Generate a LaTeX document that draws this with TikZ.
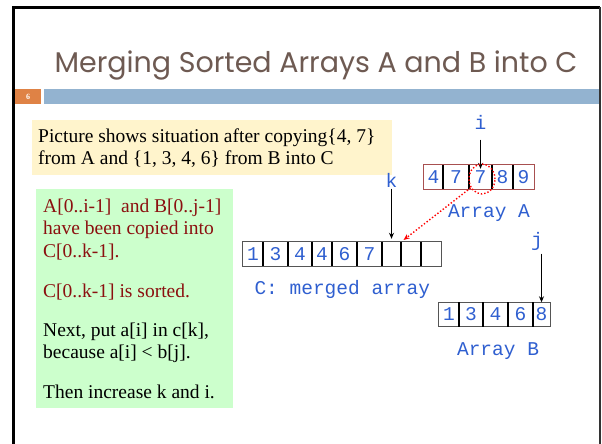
\documentclass[tikz,border=0pt]{standalone}
\usepackage{fontspec}
\setmainfont{Liberation Serif}
\setmonofont{Liberation Mono}
\newfontfamily\titlefont{Poppins}
\usetikzlibrary{arrows.meta,shapes.geometric}

\definecolor{titlebrown}{HTML}{6E5A52}
\definecolor{bandorange}{HTML}{DF8245}
\definecolor{bandblue}{HTML}{93B3D0}
\definecolor{noteyellow}{HTML}{FFF4CC}
\definecolor{notegreen}{HTML}{CCFFCC}
\definecolor{textred}{HTML}{8B1010}
\definecolor{codeblue}{HTML}{2F5FD0}
\definecolor{aborder}{HTML}{A85050}
\definecolor{cborder}{HTML}{555555}

\begin{document}
\begin{tikzpicture}[x=1pt,y=-1pt,
  body/.style={anchor=base west,inner sep=0pt,font=\fontsize{19.5}{22.5}\selectfont},
  redtext/.style={body,text=textred},
  code/.style={font=\ttfamily\fontsize{19.5}{22}\selectfont,text=codeblue},
  cell/.style={code,inner sep=0pt,minimum height=24pt},
  divider/.style={line width=1.8pt},
  ptr/.style={-{Stealth[length=6pt,width=5pt]},line width=1pt},
  copyptr/.style={-{Stealth[length=6pt,width=5pt]},red,dotted,line width=1.4pt},
]
\useasboundingbox (0,0) rectangle (602,444);
\fill[white] (0,0) rectangle (602,444);

% slide frame
\draw[line width=3pt] (13.5,450) -- (13.5,7.5) -- (600,7.5);
\draw[line width=1.2pt,black!80] (600,7.5) -- (600,450);

% title and header band
\node[anchor=base,inner sep=0pt,text=titlebrown] (title) at (316,72)
  {\titlefont\fontsize{28.5}{30}\selectfont Merging Sorted Arrays A and B into C};
\fill[bandorange] (15,89) rectangle (41,104);
\fill[bandblue] (44,89) rectangle (599,104);
\node[text=white,font=\bfseries\fontsize{8}{8}\selectfont] (pageno) at (28,96.5) {6};

% yellow note
\fill[noteyellow] (32,120) rectangle (392,175);
\node[body] (y1) at (38,142) {Picture shows situation after copying\{4, 7\}};
\node[body] (y2) at (38,164) {from A and \{1, 3, 4, 6\} from B into C};

% green note
\fill[notegreen] (36,189) rectangle (233,408);
\node[redtext] (g1) at (43,212) {A[0..i-1]\ \ and B[0..j-1]};
\node[redtext] (g2) at (43,234.5) {have been copied into};
\node[redtext] (g3) at (43,257) {C[0..k-1].};
\node[redtext] (g4) at (43,297) {C[0..k-1] is sorted.};
\node[body] (g5) at (43,336) {Next, put a[i] in c[k],};
\node[body] (g6) at (43,358.5) {because a[i] < b[j].};
\node[body] (g7) at (43,398) {Then increase k and i.};

% array A
\foreach \xa/\xb/\v/\n in {424/443/4/a0,443/469/7/a1,469/492/7/a2,492/513/8/a3,513/534/9/a4}
  \node[cell,minimum width={\xb pt-\xa pt}] (\n) at ({(\xa+\xb)/2},177) {\v};
\draw[aborder,line width=0.9pt] (a0.north west) rectangle (a4.south east);
\foreach \n in {a1,a2,a3,a4}
  \draw[divider] (\n.north west) -- (\n.south west);
\node[code,anchor=base] (labA) at (489,217) {Array A};

% array C
\foreach \xa/\xb/\v/\n in {243/263/1/c0,263/288/3/c1,288/312/4/c2,312/332/4/c3,332/357/6/c4,357/382/7/c5,382/401/{}/c6,401/421/{}/c7,421/441/{}/c8}
  \node[cell,minimum width={\xb pt-\xa pt}] (\n) at ({(\xa+\xb)/2},254) {\v};
\draw[cborder,line width=0.9pt] (c0.north west) rectangle (c8.south east);
\foreach \n in {c1,c2,c3,c4,c5,c6,c7,c8}
  \draw[divider] (\n.north west) -- (\n.south west);
\node[code,anchor=base west] (labC) at (251,294) {C: merged array};

% array B
\foreach \xa/\xb/\v/\n in {439/459/1/b0,459/483/3/b1,483/508/4/b2,508/533/6/b3,533/550/8/b4}
  \node[cell,minimum width={\xb pt-\xa pt}] (\n) at ({(\xa+\xb)/2},314.5) {\v};
\draw[cborder,line width=0.9pt] (b0.north west) rectangle (b4.south east);
\foreach \n in {b1,b2,b3,b4}
  \draw[divider] (\n.north west) -- (\n.south west);
\node[code,anchor=base] (labB) at (498,355) {Array B};

% index labels and pointers
\node[code,anchor=base] (li) at (480.5,129) {i};
\node[code,anchor=base] (lk) at (391.5,187) {k};
\node[code,anchor=base] (lj) at (537,246) {j};
\draw[ptr,shorten <=7pt,shorten >=-4pt] (li.south) -- (a2.north);
\draw[ptr,shorten <=-2pt,shorten >=3pt] (lk.south) -- (c6.north);
\draw[ptr] (lj.south -| b4.north) -- (b4.north);

% element being copied next
\node[ellipse,draw=red,dotted,line width=1.4pt,minimum width=26pt,minimum height=30pt,inner sep=0pt] (pick) at (482,179) {};
\draw[copyptr,shorten >=3pt] (pick.218) -- (c6.north east);
\end{tikzpicture}
\end{document}
